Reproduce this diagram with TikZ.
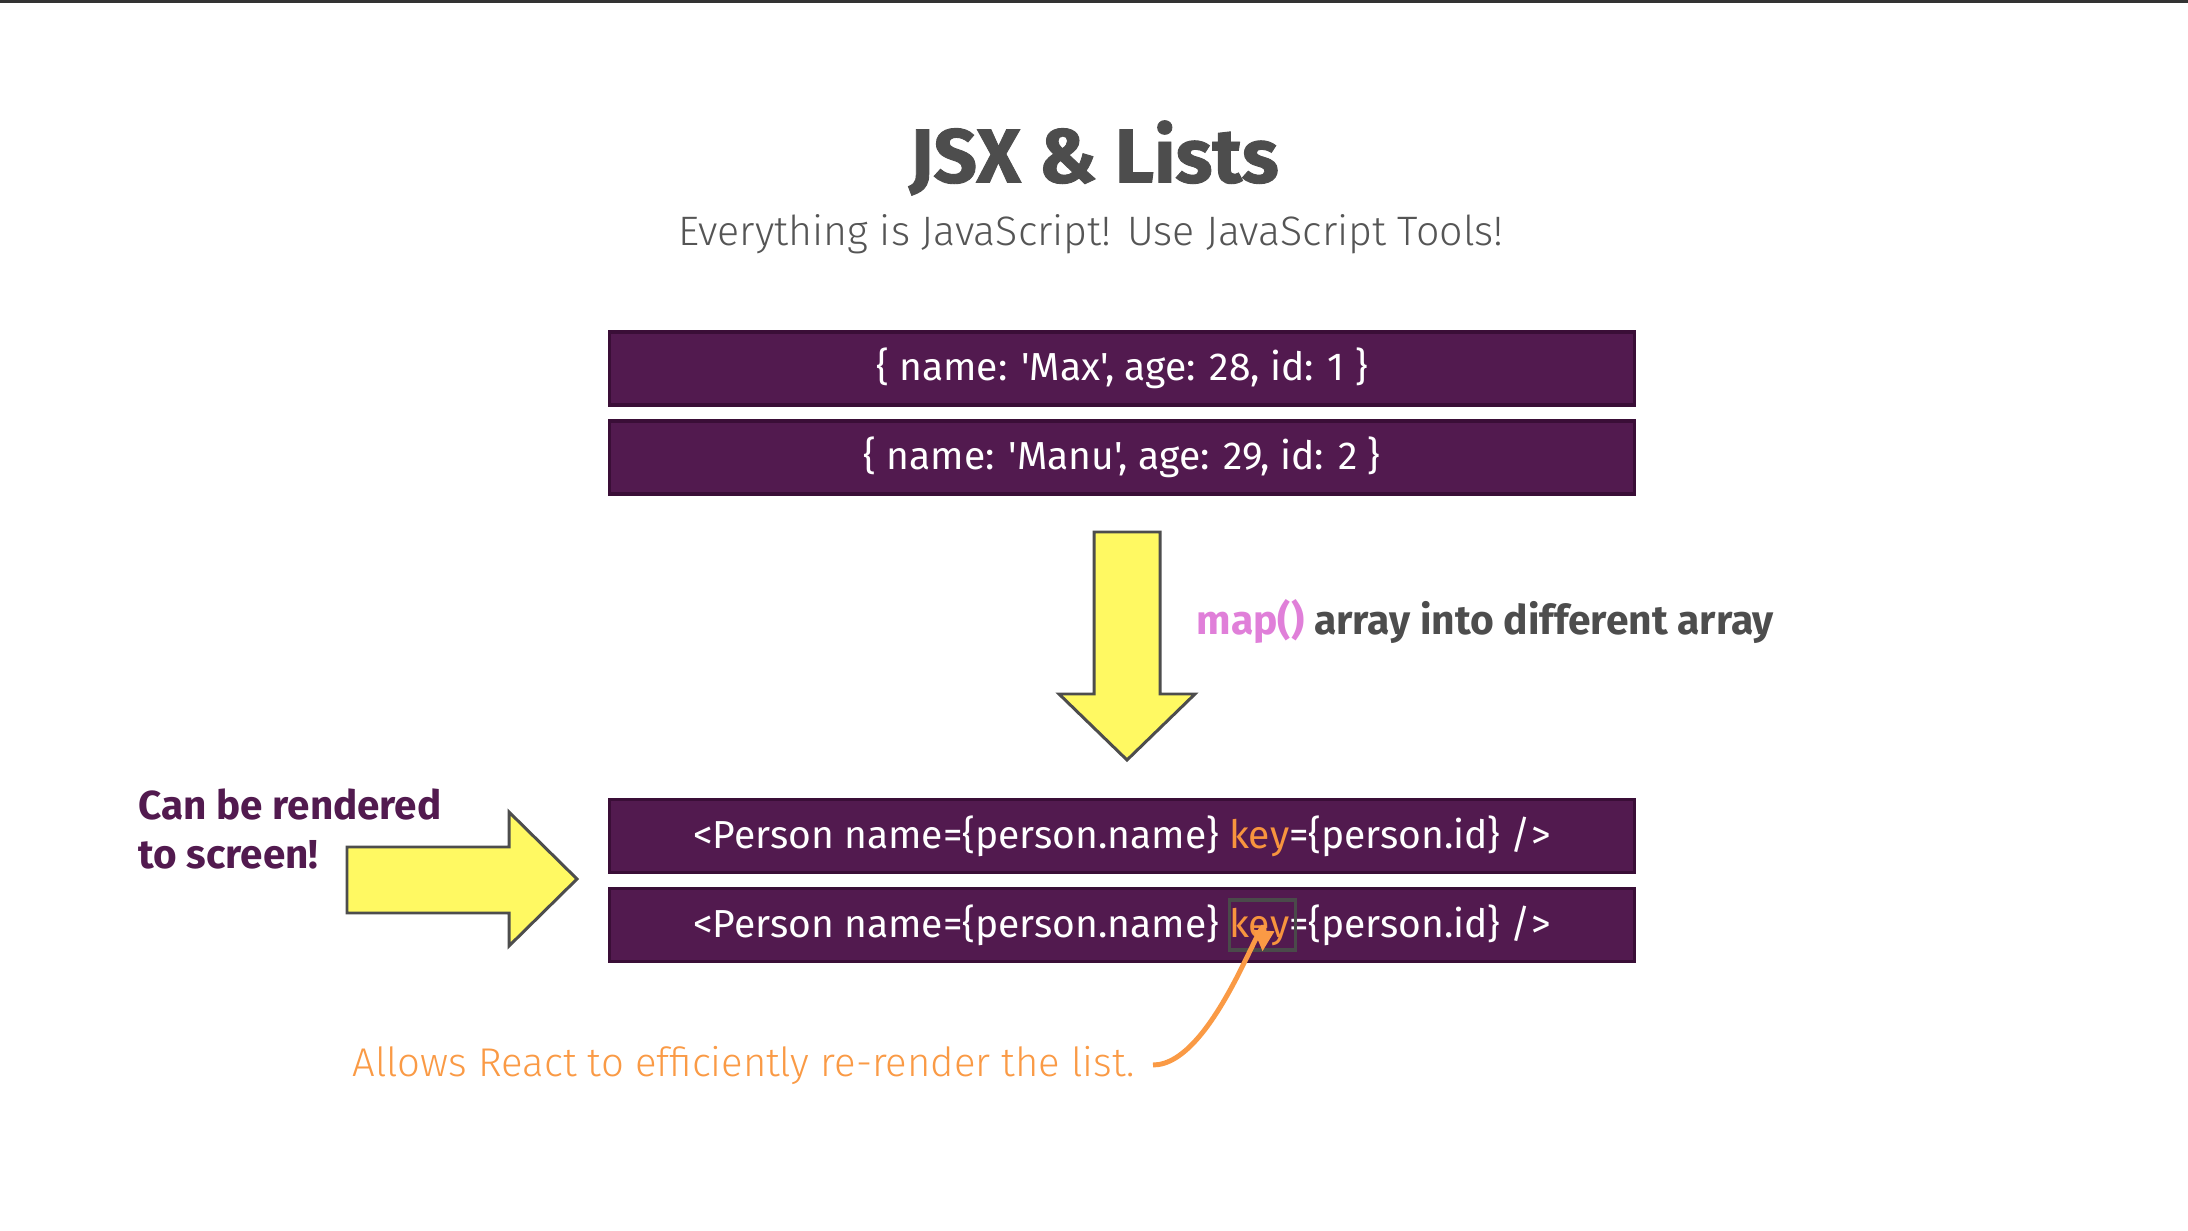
\documentclass[tikz,border=0pt]{standalone}
\usepackage{fontspec}
\setmainfont{Fira Sans}[Ligatures=TeXOff]
\newfontfamily\lightfont{Fira Sans Light}
\newfontfamily\heavyfont{Fira Sans}[FakeBold=1.2]
\usetikzlibrary{arrows.meta}
\definecolor{boxfill}{HTML}{521A4F}
\definecolor{boxedge}{HTML}{3A0E37}
\definecolor{ttl}{HTML}{4D4D4D}
\definecolor{subc}{HTML}{555555}
\definecolor{ylw}{HTML}{FFF962}
\definecolor{arredge}{HTML}{4D4D4D}
\definecolor{pinkc}{HTML}{E07FD9}
\definecolor{orng}{HTML}{FA9A45}
\definecolor{keyor}{HTML}{F7943E}
\definecolor{framegray}{HTML}{4A4A4A}
\definecolor{topc}{HTML}{333333}
\tikzset{
  databox/.style={draw=boxedge, fill=boxfill, line width=0.9pt, minimum width=10.24cm, minimum height=0.73cm, inner sep=0pt, text=white, font=\fontsize{11.1}{13}\selectfont},
  bigarrow/.style={draw=arredge, fill=ylw, line width=0.85pt, line join=miter},
  keyframe/.style={draw=framegray, line width=0.9pt, minimum width=0.66cm, minimum height=0.50cm, inner sep=0pt},
  orangearrow/.style={draw=orng, line width=1.4pt, -{Triangle[length=6pt,width=5.5pt]}},
}
\begin{document}
\begin{tikzpicture}[x=0.01cm, y=-0.01cm]
\useasboundingbox (0,0) rectangle (2188,1231);
\fill[white] (0,0) rectangle (2188,1231);
\draw[topc, line width=0.9pt] (0,1) -- (2188,1);

\node[text=ttl, font=\heavyfont\bfseries\fontsize{21.7}{25}\selectfont] (title) at (1094,158) {JSX \& Lists};
\node[text=subc, font=\lightfont\fontsize{11.7}{14}\selectfont] (subtitle) at (1091,234) {Everything is JavaScript! Use JavaScript Tools!};

\node[databox] (b1) at (1122,368.5) {\{ name: 'Max', age: 28, id: 1 \}};
\node[databox] (b2) at (1122,457.5) {\{ name: 'Manu', age: 29, id: 2 \}};

\filldraw[bigarrow] (1094,532) -- (1160,532) -- (1160,694) -- (1195,694) -- (1127,760) -- (1059,694) -- (1094,694) -- cycle;

\node[anchor=west, inner sep=0pt, font=\fontsize{11.6}{14}\selectfont\bfseries, text=ttl] (maptext) at (1196,622) {\textcolor{pinkc}{map()} array into different array};

\node[databox] (b3) at (1122,836) {<Person name=\{person.name\} \textcolor{keyor}{key}=\{person.id\} />};
\node[databox] (b4) at (1122,925) {<Person name=\{person.name\} \textcolor{keyor}{key}=\{person.id\} />};
\node[keyframe] (kf) at (1262.5,925) {};

\filldraw[bigarrow] (347,847) -- (509,847) -- (509,812) -- (577,879) -- (509,946) -- (509,913) -- (347,913) -- cycle;

\node[anchor=west, align=left, inner sep=0pt, text=boxfill, font=\fontsize{11.5}{13.7}\selectfont\bfseries] (render) at (138,829) {Can be rendered\\to screen!};

\node[anchor=west, inner sep=0pt, text=orng, font=\lightfont\fontsize{11.4}{14}\selectfont] (allows) at (352,1065) {Allows React to efficiently re-render the list.};

\coordinate (cstart) at (1153,1065);
\draw[orangearrow] (cstart) .. controls +(0.62cm,0) and +(0.04cm,0.55cm) .. (kf.south);
\end{tikzpicture}
\end{document}
